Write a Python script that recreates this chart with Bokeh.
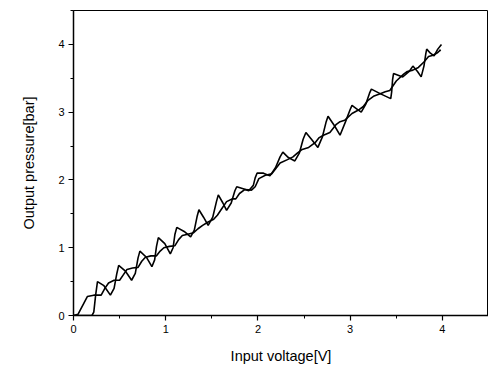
from bokeh.plotting import figure
from bokeh.models import Range1d, FixedTicker
from bokeh.embed import file_html
from bokeh.resources import INLINE

# Curve A: sawtooth branch (sharp rises, gradual falls)
a_x = [0.0, 0.10, 0.20, 0.22, 0.24, 0.26, 0.33, 0.40, 0.44, 0.47, 0.49, 0.56, 0.63, 0.67, 0.70, 0.72,
       0.79, 0.85, 0.88, 0.90, 0.92, 0.99, 1.05, 1.08, 1.10, 1.12, 1.20, 1.27, 1.31, 1.34, 1.36, 1.41,
       1.46, 1.51, 1.55, 1.57, 1.62, 1.66, 1.71, 1.75, 1.77, 1.84, 1.90, 1.95, 1.97, 1.99, 2.06, 2.13,
       2.19, 2.24, 2.27, 2.33, 2.40, 2.45, 2.49, 2.52, 2.58, 2.65, 2.70, 2.74, 2.76, 2.83, 2.89, 2.95,
       3.00, 3.02, 3.07, 3.12, 3.17, 3.21, 3.23, 3.33, 3.44, 3.45, 3.46, 3.47, 3.57, 3.64, 3.68, 3.73,
       3.77, 3.80, 3.82, 3.83, 3.87, 3.91, 3.95, 3.99]
a_y = [0.0, 0.0, 0.0, 0.05, 0.30, 0.50, 0.44, 0.30, 0.40, 0.62, 0.74, 0.66, 0.52, 0.62, 0.85, 0.95,
       0.86, 0.72, 0.82, 1.02, 1.15, 1.06, 0.91, 1.00, 1.20, 1.30, 1.24, 1.16, 1.26, 1.46, 1.56, 1.45,
       1.33, 1.45, 1.68, 1.78, 1.66, 1.55, 1.66, 1.84, 1.90, 1.87, 1.84, 1.92, 2.03, 2.10, 2.10, 2.06,
       2.18, 2.34, 2.41, 2.33, 2.28, 2.40, 2.60, 2.70, 2.60, 2.48, 2.64, 2.86, 2.94, 2.80, 2.66, 2.86,
       3.04, 3.10, 3.05, 3.00, 3.12, 3.28, 3.34, 3.27, 3.20, 3.30, 3.48, 3.57, 3.52, 3.60, 3.68, 3.60,
       3.52, 3.68, 3.86, 3.93, 3.87, 3.83, 3.93, 4.00]

# Curve B: stepped branch (plateaus with short rises)
b_x = [0.0, 0.05, 0.10, 0.15, 0.22, 0.30, 0.34, 0.38, 0.44, 0.50, 0.54, 0.58, 0.64, 0.70, 0.74, 0.78,
       0.84, 0.90, 0.94, 0.98, 1.04, 1.10, 1.14, 1.18, 1.24, 1.30, 1.35, 1.40, 1.46, 1.52, 1.56, 1.60,
       1.66, 1.72, 1.76, 1.80, 1.86, 1.93, 1.97, 2.01, 2.08, 2.15, 2.19, 2.24, 2.32, 2.38, 2.43, 2.48,
       2.55, 2.62, 2.66, 2.71, 2.78, 2.85, 2.89, 2.94, 3.02, 3.10, 3.14, 3.19, 3.26, 3.34, 3.38, 3.43,
       3.50, 3.58, 3.62, 3.68, 3.74, 3.80, 3.85, 3.90, 3.95, 3.98, 3.97]
b_y = [0.0, 0.02, 0.15, 0.28, 0.30, 0.30, 0.40, 0.48, 0.52, 0.52, 0.60, 0.68, 0.70, 0.71, 0.80, 0.86,
       0.88, 0.88, 0.95, 1.00, 1.02, 1.03, 1.12, 1.18, 1.20, 1.22, 1.28, 1.33, 1.38, 1.42, 1.48, 1.56,
       1.68, 1.72, 1.72, 1.80, 1.86, 1.85, 1.90, 2.02, 2.07, 2.09, 2.16, 2.25, 2.30, 2.34, 2.40, 2.45,
       2.48, 2.55, 2.62, 2.66, 2.70, 2.82, 2.86, 2.88, 2.98, 3.04, 3.08, 3.17, 3.24, 3.28, 3.30, 3.32,
       3.46, 3.56, 3.60, 3.62, 3.66, 3.74, 3.82, 3.84, 3.88, 3.92, 3.90]

x_ticks = [0, 1, 2, 3, 4]
y_ticks = [0, 1, 2, 3, 4]
x_minor = [0.5, 1.5, 2.5, 3.5, 4.5]
y_minor = [0.5, 1.5, 2.5, 3.5, 4.5]

p = figure(width=488, height=366, output_backend="svg", toolbar_location=None,
           x_range=Range1d(0, 4.5), y_range=Range1d(0, 4.5),
           min_border_left=73, min_border_right=0, min_border_top=10, min_border_bottom=49)

p.line(a_x, a_y, line_color="black", line_width=1.6)
p.line(b_x, b_y, line_color="black", line_width=1.6)

p.grid.visible = False
p.background_fill_color = "white"
p.border_fill_color = "white"
p.outline_line_color = "black"
p.outline_line_width = 1

p.xaxis.ticker = FixedTicker(ticks=x_ticks, minor_ticks=x_minor)
p.yaxis.ticker = FixedTicker(ticks=y_ticks, minor_ticks=y_minor)

for ax in (p.xaxis[0], p.yaxis[0]):
    ax.axis_line_color = "black"
    ax.axis_line_width = 1.5
    ax.major_tick_line_color = "black"
    ax.major_tick_line_width = 1.2
    ax.major_tick_out = 5
    ax.major_tick_in = 0
    ax.minor_tick_line_color = "black"
    ax.minor_tick_out = 3
    ax.minor_tick_in = 0
    ax.major_label_text_font = "Liberation Sans"
    ax.major_label_text_font_size = "11px"
    ax.major_label_text_color = "black"
    ax.axis_label_text_font = "Liberation Sans"
    ax.axis_label_text_font_style = "normal"
    ax.axis_label_text_font_size = "14.5px"
    ax.axis_label_text_color = "black"
    ax.major_label_standoff = 4

p.xaxis.axis_label = "Input voltage[V]"
p.yaxis.axis_label = "Output pressure[bar]"
p.xaxis.axis_label_standoff = 12
p.yaxis.axis_label_standoff = 18

open("out.html", "w").write(file_html(p, INLINE))
